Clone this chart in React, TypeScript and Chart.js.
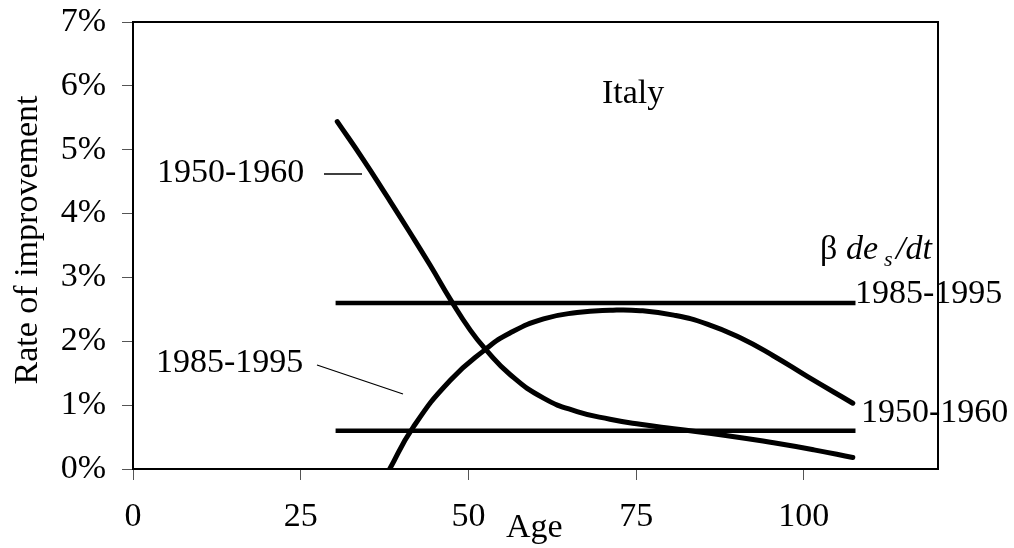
import { useEffect, useRef } from "react";
import { Chart, registerables } from "chart.js";

Chart.register(...registerables);

const FAMILY = "'Liberation Serif', 'Times New Roman', serif";

// Age axis ticks and rate axis ticks (percent)
const xTickValues = [0, 25, 50, 75, 100];
const yTickValues = [0, 1, 2, 3, 4, 5, 6, 7];

// Rate of improvement, 1950-1960 (curve)
const ages1950 = [30.45, 34.3, 37.8, 41.3, 44.3, 47.4, 50.3, 52.5, 56.2, 61.2, 66.2, 71.1, 75.6, 80.6, 88.1, 95.5, 101.5, 107.3];
const rate1950 = [5.44, 4.85, 4.28, 3.7, 3.19, 2.64, 2.17, 1.88, 1.48, 1.11, 0.9, 0.78, 0.7, 0.63, 0.53, 0.41, 0.3, 0.18];

// Rate of improvement, 1985-1995 (curve)
const ages1985 = [38.0, 41.8, 47.3, 52.5, 56.2, 61.2, 66.2, 71.1, 75.6, 80.6, 85.6, 90.6, 95.5, 100.5, 107.3];
const rate1985 = [-0.05, 0.66, 1.39, 1.87, 2.13, 2.35, 2.45, 2.485, 2.48, 2.41, 2.27, 2.05, 1.77, 1.45, 1.03];

// beta de_s/dt (flat lines)
const flatAges = [30.2, 107.7];
const flat1985 = [2.6, 2.6];
const flat1950 = [0.6, 0.6];

const pts = (xs: number[], ys: number[]) => xs.map((x, i) => ({ x, y: ys[i] }));

const noPad = (s: any) => {
  s.paddingTop = 0;
  s.paddingBottom = 0;
  s.paddingLeft = 0;
  s.paddingRight = 0;
};

const annotations = {
  id: "annotations",
  afterDraw(chart: any) {
    const { ctx, chartArea: a } = chart;
    ctx.save();
    // plot frame
    ctx.strokeStyle = "#000";
    ctx.lineWidth = 2;
    ctx.strokeRect(a.left, a.top, a.right - a.left, a.bottom - a.top);

    ctx.fillStyle = "#000";
    ctx.textBaseline = "alphabetic";
    ctx.textAlign = "left";
    ctx.font = `34px ${FAMILY}`;
    ctx.fillText("Italy", 602, 103);
    ctx.fillText("1950-1960", 157, 182);
    ctx.fillText("1985-1995", 156, 372);
    ctx.fillText("1985-1995", 855, 303);
    ctx.fillText("1950-1960", 861, 422);
    ctx.fillText("Age", 506, 537);

    // beta de_s/dt
    ctx.fillText("\u03b2", 820, 259);
    ctx.font = `italic 34px ${FAMILY}`;
    ctx.fillText("de", 846, 259);
    ctx.font = `italic 22px ${FAMILY}`;
    ctx.fillText("s", 884, 266);
    ctx.font = `italic 34px ${FAMILY}`;
    ctx.fillText("/dt", 896, 259);

    // y axis title
    ctx.font = `34px ${FAMILY}`;
    ctx.save();
    ctx.translate(37, 240);
    ctx.rotate(-Math.PI / 2);
    ctx.textAlign = "center";
    ctx.fillText("Rate of improvement", 0, 0);
    ctx.restore();

    // leader lines
    ctx.lineWidth = 1.3;
    ctx.beginPath();
    ctx.moveTo(324, 174);
    ctx.lineTo(362, 174);
    ctx.moveTo(317, 365);
    ctx.lineTo(403, 394);
    ctx.stroke();
    ctx.restore();
  },
};

export default function App() {
  const ref = useRef<HTMLCanvasElement | null>(null);
  useEffect(() => {
    if (!ref.current) return;
    const curve = (data: any) => ({
      data,
      borderColor: "#000",
      borderWidth: 5,
      pointRadius: 0,
      borderCapStyle: "round" as const,
      borderJoinStyle: "round" as const,
      tension: 0.5,
      clip: 0,
    });
    const flat = (data: any) => ({
      data,
      borderColor: "#000",
      borderWidth: 4.5,
      pointRadius: 0,
      borderCapStyle: "butt" as const,
      clip: 0,
    });
    const chart = new Chart(ref.current, {
      type: "line",
      data: {
        datasets: [
          curve(pts(ages1950, rate1950)),
          curve(pts(ages1985, rate1985)),
          flat(pts(flatAges, flat1985)),
          flat(pts(flatAges, flat1950)),
        ],
      },
      options: {
        responsive: false,
        animation: false,
        devicePixelRatio: 1,
        layout: { padding: { top: 22, right: 76, left: 0, bottom: 0 } },
        plugins: { legend: { display: false }, tooltip: { enabled: false } },
        scales: {
          x: {
            type: "linear",
            min: 0,
            max: 120,
            afterFit: (s: any) => {
              s.height = 79;
              noPad(s);
            },
            afterBuildTicks: (s: any) => {
              s.ticks = xTickValues.map((v) => ({ value: v }));
            },
            grid: { drawOnChartArea: false, drawTicks: true, tickLength: 11, color: "#555", lineWidth: 1 },
            border: { display: false },
            ticks: {
              color: "#000",
              padding: 17,
              maxRotation: 0,
              font: { family: FAMILY, size: 34 },
              callback: (v: any) => String(v),
            },
          },
          y: {
            type: "linear",
            min: 0,
            max: 7,
            afterFit: (s: any) => {
              s.width = 133;
              noPad(s);
            },
            afterBuildTicks: (s: any) => {
              s.ticks = yTickValues.map((v) => ({ value: v }));
            },
            grid: { drawOnChartArea: false, drawTicks: true, tickLength: 11, color: "#555", lineWidth: 1 },
            border: { display: false },
            ticks: {
              color: "#000",
              padding: 16,
              font: { family: FAMILY, size: 34 },
              callback: (v: any) => `${v}%`,
            },
          },
        },
      },
      plugins: [annotations],
    });
    return () => chart.destroy();
  }, []);
  return (
    <div style={{ position: "fixed", left: 0, top: 0, width: 1014, height: 548, background: "#fff" }}>
      <canvas ref={ref} width={1014} height={548} style={{ display: "block" }} />
    </div>
  );
}
